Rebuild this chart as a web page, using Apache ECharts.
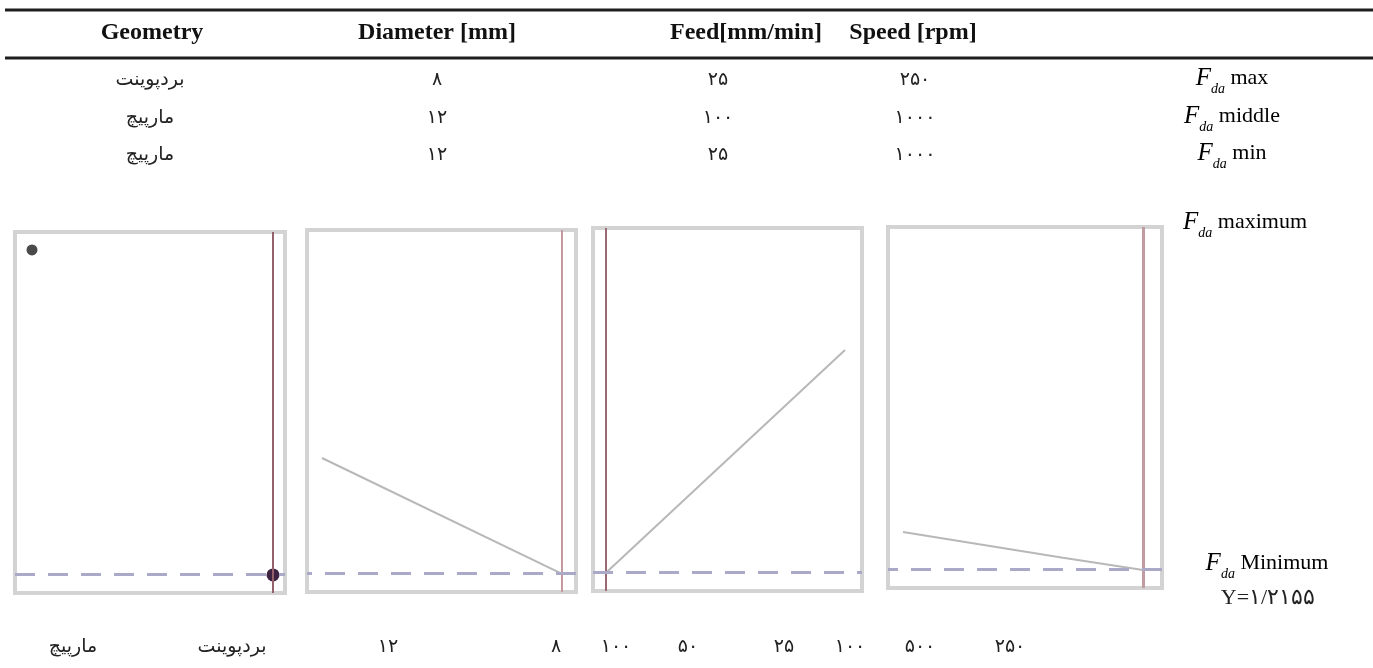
<!DOCTYPE html>
<html>
<head>
<meta charset="utf-8">
<script src="https://cdn.jsdelivr.net/npm/echarts@6/dist/echarts.min.js"></script>
<style>
  html, body { margin: 0; padding: 0; background: #fff; }
  #chart { width: 1373px; height: 668px; }
</style>
</head>
<body>
<div id="chart"></div>
<script>
// table above the plots
const headers = ['Geometry', 'Diameter [mm]', 'Feed[mm/min]', 'Speed [rpm]'];
const tableRows = [
  ['بردپوینت', '۸', '۲۵', '۲۵۰'],
  ['مارپیچ', '۱۲', '۱۰۰', '۱۰۰۰'],
  ['مارپیچ', '۱۲', '۲۵', '۱۰۰۰']
];
const rowNames = ['max', 'middle', 'min'];

// factor levels and predicted response
const geometryLevels = ['مارپیچ', 'بردپوینت'];
const geometryY = [5.086, 1.2155];
const diameterLevels = [12, 8];
const diameterY = [2.592, 1.2155];
const feedLevels = [25, 100];
const feedY = [1.2155, 3.855];
const speedLevels = [1000, 500, 250];
const speedY = [1.667, 1.36, 1.2155];

// current setting (red line) and optimum response (dashed line)
const geometrySetting = 1; // index into geometryLevels
const diameterSetting = 8;
const feedSetting = 25;
const speedSetting = 250;
const yOptimum = 1.2155;
const yLabel = 'Y=۱/۲۱۵۵';

// tick labels printed under the panels
const bottomLabels = ['مارپیچ', 'بردپوینت', '۱۲', '۸', '۱۰۰', '۵۰', '۲۵', '۱۰۰', '۵۰۰', '۲۵۰'];

// ---- layout ----
const panels = [
  { left: 15, right: 285, top: 232, bottom: 593, xMin: -0.0705, xMax: 1.0498, inverse: false, red: '#94606a', redW: 2 },
  { left: 307, right: 576, top: 230, bottom: 592, xMin: 7.767, xMax: 12.25, inverse: true, red: '#c49a9f', redW: 2 },
  { left: 593, right: 862, top: 228, bottom: 591, xMin: 20.92, xMax: 105.33, inverse: false, red: '#9a6a74', redW: 2 },
  { left: 888, right: 1162, top: 227, bottom: 588, xMin: 190.6, xMax: 1046.9, inverse: true, red: '#c09ca0', redW: 3 }
];
const yMin = 1.0, yMax = 5.3;
const headerX = [152, 437, 746, 913];
const colX = [150, 437, 718, 915];
const rowY = [80, 118, 155];
const bottomLabelX = [73, 232, 388, 556, 616, 688, 784, 850, 920, 1010];

const serif = '"Liberation Serif", "DejaVu Serif", serif';
const persian = '"DejaVu Sans", sans-serif';

const chart = echarts.init(document.getElementById('chart'));

const grids = panels.map(p => ({
  left: p.left, top: p.top, width: p.right - p.left, height: p.bottom - p.top,
  show: true, borderColor: '#d3d3d3', borderWidth: 4, backgroundColor: '#fff'
}));
const xAxes = panels.map((p, i) => ({
  type: 'value', gridIndex: i, min: p.xMin, max: p.xMax, inverse: p.inverse,
  axisLine: { show: false }, axisTick: { show: false }, axisLabel: { show: false }, splitLine: { show: false }
}));
const yAxes = panels.map((p, i) => ({
  type: 'value', gridIndex: i, min: yMin, max: yMax,
  axisLine: { show: false }, axisTick: { show: false }, axisLabel: { show: false }, splitLine: { show: false }
}));

function markLines(i, xSetting) {
  return {
    silent: true, symbol: 'none', animation: false,
    label: { show: false },
    data: [
      { xAxis: xSetting, lineStyle: { color: panels[i].red, width: panels[i].redW, type: 'solid' } },
      { yAxis: yOptimum, lineStyle: { color: '#aaaac8', width: 3, type: [20, 13] } }
    ]
  };
}

const lineStyle = { color: '#b8b8b8', width: 2 };
const series = [
  {
    type: 'scatter', xAxisIndex: 0, yAxisIndex: 0,
    data: geometryLevels.map((g, k) => ({
      value: [k, geometryY[k]],
      symbolSize: k === geometrySetting ? 13 : 11,
      itemStyle: { color: k === geometrySetting ? '#3e2242' : '#4a4a4a', opacity: 1 }
    })),
    markLine: markLines(0, geometrySetting), z: 3
  },
  {
    type: 'line', xAxisIndex: 1, yAxisIndex: 1, showSymbol: false, lineStyle,
    data: diameterLevels.map((d, k) => [d, diameterY[k]]),
    markLine: markLines(1, diameterSetting)
  },
  {
    type: 'line', xAxisIndex: 2, yAxisIndex: 2, showSymbol: false, lineStyle,
    data: feedLevels.map((d, k) => [d, feedY[k]]),
    markLine: markLines(2, feedSetting)
  },
  {
    type: 'line', xAxisIndex: 3, yAxisIndex: 3, showSymbol: false, lineStyle,
    data: speedLevels.map((d, k) => [d, speedY[k]]),
    markLine: markLines(3, speedSetting)
  }
];

// rich label "F_da ..."
const fRich = {
  f: { fontFamily: serif, fontStyle: 'italic', fontSize: 25, color: '#222', lineHeight: 36, verticalAlign: 'middle' },
  s: { fontFamily: serif, fontStyle: 'italic', fontSize: 14, color: '#222', lineHeight: 36, verticalAlign: 'bottom' },
  t: { fontFamily: serif, fontSize: 22, color: '#222', lineHeight: 36, verticalAlign: 'middle' }
};
function fLabel(word, x, y) {
  return {
    type: 'text', x: x, y: y,
    style: { text: '{f|F}{s|da}{t| ' + word + '}', rich: fRich, align: 'center', verticalAlign: 'middle' }
  };
}

const graphics = [];
// table rules
[10, 58].forEach(y => graphics.push({
  type: 'line', shape: { x1: 5, y1: y, x2: 1373, y2: y },
  style: { stroke: '#1e1e1e', lineWidth: 3 }
}));
headers.forEach((h, k) => graphics.push({
  type: 'text', x: headerX[k], y: 33,
  style: { text: h, font: 'bold 24px ' + serif, fill: '#111', align: 'center', verticalAlign: 'middle' }
}));
tableRows.forEach((row, r) => {
  row.forEach((v, c) => graphics.push({
    type: 'text', x: colX[c], y: rowY[r],
    style: { text: v, font: '19px ' + persian, fill: '#222', align: 'center', verticalAlign: 'middle' }
  }));
  graphics.push(fLabel(rowNames[r], 1232, rowY[r] - 2));
});
graphics.push(fLabel('maximum', 1245, 222));
graphics.push(fLabel('Minimum', 1267, 563));
graphics.push({
  type: 'text', x: 1268, y: 598,
  style: { text: yLabel, font: '22px ' + serif, fill: '#222', align: 'center', verticalAlign: 'middle' }
});
bottomLabels.forEach((t, k) => graphics.push({
  type: 'text', x: bottomLabelX[k], y: 647,
  style: { text: t, font: '19px ' + persian, fill: '#222', align: 'center', verticalAlign: 'middle' }
}));

chart.setOption({
  animation: false,
  backgroundColor: '#fff',
  grid: grids,
  xAxis: xAxes,
  yAxis: yAxes,
  series: series,
  graphic: graphics
});
</script>
</body>
</html>
